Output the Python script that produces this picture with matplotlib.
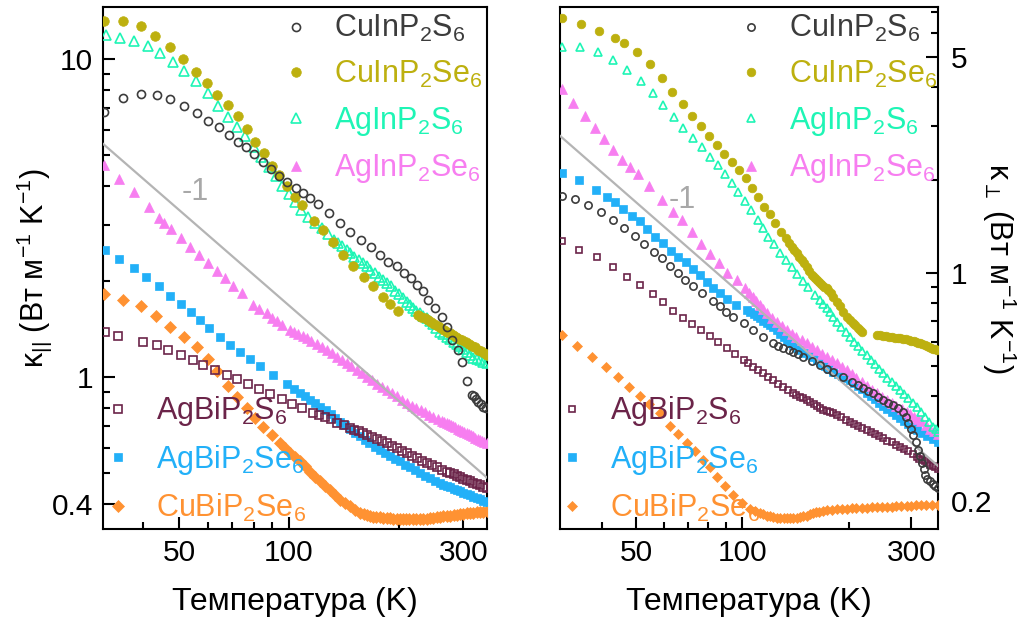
import matplotlib
matplotlib.use('Agg')
import matplotlib.pyplot as plt
import matplotlib.transforms as mtransforms
from matplotlib.ticker import FixedLocator, FixedFormatter, NullFormatter

# ---------------- data: left panel (kappa parallel) ----------------
T_par_CuInP2S6 = [31.2, 35.2, 39.4, 43.5, 47.4, 51.7, 55.9, 60.1, 64.3, 68.7, 72.4, 76.1, 80.2, 84.7, 89.1, 94,
                  98.9, 104.3, 109, 114.2, 120.3, 128.9, 137.9, 146.9, 157.1, 167.3, 177.4, 187, 197.1, 206.4,
                  215.3, 223.6, 232.2, 240.6, 250.9, 261.7, 270.1, 278.8, 290.6, 296.9, 306.4, 316.2, 320, 324,
                  329.7, 335, 340.3, 346]
k_par_CuInP2S6 = [6.84, 7.54, 7.78, 7.72, 7.48, 7.13, 6.76, 6.41, 6.11, 5.78, 5.51, 5.29, 5.04, 4.76, 4.51, 4.3,
                  4.12, 3.93, 3.79, 3.66, 3.51, 3.28, 3.05, 2.87, 2.70, 2.56, 2.42, 2.31, 2.23, 2.13,
                  2.05, 1.95, 1.86, 1.75, 1.65, 1.55, 1.44, 1.31, 1.22, 1.12, 0.973, 0.88, 0.87, 0.855,
                  0.838, 0.822, 0.808, 0.80]

T_par_CuInP2Se6 = [31.2, 35.2, 39.3, 43.0, 47.2, 51.4, 55.7, 59.8, 63.7, 68.0, 72.4, 76.6, 80.9, 85.4, 89.7, 94.1,
                   99, 103.8, 108.7, 117, 123.6, 131.7, 140.3, 150, 160.4, 170.1, 181.2, 189, 198.4,
                   226, 230, 235, 240, 245, 250, 255, 260, 265, 270, 276, 281, 287, 292, 298, 304, 310, 316,
                   322, 328, 335, 341, 347]
k_par_CuInP2Se6 = [13.2, 13.2, 12.7, 11.8, 10.9, 10.0, 9.14, 8.41, 7.72, 7.17, 6.63, 6.03, 5.51, 5.06, 4.63, 4.31,
                   4.0, 3.70, 3.48, 3.09, 2.91, 2.67, 2.42, 2.23, 2.07, 1.93, 1.79, 1.70, 1.62,
                   1.57, 1.55, 1.53, 1.51, 1.49, 1.47, 1.45, 1.43, 1.41, 1.39, 1.375, 1.355, 1.34, 1.32, 1.305,
                   1.29, 1.27, 1.255, 1.24, 1.22, 1.205, 1.19, 1.175]

T_par_AgInP2S6 = [31.6, 34.5, 37.6, 41.2, 44.4, 48.1, 51.7, 55.7, 59.9, 64.0, 68.2, 72.2, 75.8, 80, 84, 88, 92, 96,
                  100, 104, 108, 113, 118, 123, 128, 133, 136.5, 140, 144, 147, 151, 155, 159, 163, 167, 172,
                  176, 181, 185, 190, 195, 200, 205, 210, 214, 219, 223, 228, 233, 238, 243, 248, 253, 259,
                  264, 270, 276, 282, 288, 294, 300, 306, 312, 319, 326, 333, 340, 347]
k_par_AgInP2S6 = [11.9, 11.7, 11.4, 11.0, 10.5, 9.83, 9.21, 8.56, 7.85, 7.13, 6.57, 6.11, 5.74, 5.29, 4.91, 4.58,
                  4.28, 4.0, 3.77, 3.55, 3.35, 3.18, 3.05, 2.95, 2.83, 2.71, 2.64, 2.58, 2.51, 2.45, 2.39, 2.33,
                  2.28, 2.23, 2.17, 2.12, 2.07, 2.02, 1.98, 1.93, 1.87, 1.82, 1.77, 1.72, 1.69, 1.65, 1.62,
                  1.59, 1.56, 1.53, 1.50, 1.47, 1.43, 1.39, 1.365, 1.34, 1.315, 1.29, 1.27, 1.25, 1.225,
                  1.20, 1.175, 1.15, 1.14, 1.13, 1.12, 1.11]

T_par_AgInP2Se6 = [31.2, 34.3, 37.7, 41.5, 44.2, 45.6, 47.7, 50.7, 53.6, 56.8, 60.1, 63.6, 66.8, 70.4, 74.5, 79.8,
                   83, 86.9, 90, 92.5, 96, 100.6, 103, 106, 109, 111.8, 115, 119, 123, 126.8, 131, 135, 139.5,
                   143.9, 148, 153, 158, 163.2, 168.5, 174, 179.5, 185.1, 191, 197, 203.5, 210, 216.5, 223,
                   229.5, 236, 242, 248.3, 255, 262, 266, 270, 273.5, 277, 281, 285, 289.5, 294, 298, 302, 306,
                   310, 314.5, 319, 323.5, 328, 333, 338, 342.5, 347]
k_par_AgInP2Se6 = [4.65, 4.19, 3.81, 3.44, 3.16, 3.06, 2.92, 2.74, 2.57, 2.42, 2.28, 2.16, 2.05, 1.94, 1.84, 1.69,
                   1.64, 1.59, 1.54, 1.50, 1.455, 1.41, 1.39, 1.37, 1.35, 1.33, 1.30, 1.27, 1.245, 1.22, 1.19,
                   1.16, 1.135, 1.11, 1.082, 1.055, 1.027, 1.0, 0.977, 0.955, 0.933, 0.912, 0.891, 0.87, 0.849,
                   0.828, 0.814, 0.80, 0.787, 0.775, 0.763, 0.752, 0.741, 0.73, 0.723, 0.717, 0.711, 0.705,
                   0.70, 0.695, 0.689, 0.683, 0.678, 0.674, 0.669, 0.665, 0.658, 0.652, 0.646, 0.64, 0.635,
                   0.63, 0.625, 0.62]

T_par_AgBiP2S6 = [31.4, 34.1, 39.9, 43.5, 46.8, 50.7, 54.5, 58.3, 62.7, 67.5, 72.2, 77.4, 82.9, 88.7, 95.5, 101.7,
                  108.3, 116.6, 120.9, 125.4, 130, 135.1, 141, 147, 151, 155, 159, 163, 168.5, 174, 179.5, 185,
                  191, 197, 203.5, 210, 217, 224, 231, 238, 246, 254, 262, 270, 276, 282, 288, 294, 300, 306,
                  312.5, 319, 326, 333, 340, 347]
k_par_AgBiP2S6 = [1.39, 1.35, 1.29, 1.26, 1.22, 1.175, 1.13, 1.093, 1.054, 1.017, 0.988, 0.953, 0.919, 0.884,
                  0.855, 0.824, 0.799, 0.774, 0.763, 0.752, 0.736, 0.72, 0.705, 0.691, 0.683, 0.675, 0.667,
                  0.659, 0.649, 0.64, 0.63, 0.62, 0.609, 0.598, 0.587, 0.577, 0.566, 0.556, 0.546, 0.536, 0.528,
                  0.52, 0.512, 0.505, 0.50, 0.495, 0.49, 0.485, 0.48, 0.475, 0.47, 0.466, 0.461, 0.457, 0.452,
                  0.448]

T_par_AgBiP2Se6 = [31.4, 34.3, 37.6, 40.6, 44.2, 47.2, 50.7, 53.9, 57.1, 60.5, 64.7, 69.0, 73.4, 78.2, 83.3, 90.6,
                   98.6, 103, 107.2, 110.5, 114, 118, 121.6, 126, 130, 134, 137.9, 142.5, 147, 151.5, 156, 161,
                   166, 171.5, 177, 183, 189, 195, 201, 207.5, 214, 221, 228, 235.5, 243, 251, 259, 264.5, 270,
                   276, 282, 288, 294, 300, 306, 312.5, 319, 326, 333, 340, 347]
k_par_AgBiP2Se6 = [2.51, 2.36, 2.21, 2.06, 1.93, 1.80, 1.70, 1.60, 1.51, 1.43, 1.34, 1.26, 1.20, 1.14, 1.085,
                   1.017, 0.953, 0.92, 0.891, 0.87, 0.85, 0.829, 0.808, 0.786, 0.765, 0.745, 0.725, 0.706, 0.687,
                   0.669, 0.652, 0.636, 0.62, 0.605, 0.59, 0.577, 0.565, 0.554, 0.543, 0.531, 0.52, 0.509,
                   0.499, 0.49, 0.481, 0.472, 0.464, 0.459, 0.455, 0.45, 0.446, 0.441, 0.437, 0.433, 0.429,
                   0.425, 0.421, 0.417, 0.413, 0.409, 0.406]

T_par_CuBiP2Se6 = [31.2, 35.2, 39.3, 43.3, 47.4, 51.6, 55.9, 59.9, 63.7, 68.2, 72.2, 76.6, 80.7, 85.1, 89.7, 94.5,
                   97.5, 100.6, 104, 107.2, 110.7, 114.2, 118, 121.6, 125.5, 129.5, 133.7, 137.9, 142.4, 146.9,
                   151.7, 156.5, 160, 163, 166.5, 170, 173.5, 177, 181, 185, 189, 193, 197, 201, 205, 209, 213.5,
                   218, 223, 228, 233, 238, 243, 248, 253.5, 259, 264.5, 270, 276, 282, 288, 294, 300, 306,
                   312.5, 319, 326, 333, 340, 347]
k_par_CuBiP2Se6 = [1.82, 1.75, 1.68, 1.56, 1.44, 1.34, 1.24, 1.14, 1.049, 0.939, 0.865, 0.799, 0.743, 0.699,
                   0.659, 0.62, 0.598, 0.577, 0.56, 0.543, 0.524, 0.505, 0.487, 0.47, 0.456, 0.442, 0.426, 0.411,
                   0.401, 0.392, 0.382, 0.373, 0.37, 0.368, 0.366, 0.364, 0.363, 0.362, 0.361, 0.36, 0.3595,
                   0.359, 0.3585, 0.358, 0.3575, 0.357, 0.357, 0.357, 0.3575, 0.358, 0.3585, 0.359, 0.36, 0.361,
                   0.3625, 0.364, 0.365, 0.366, 0.367, 0.368, 0.3695, 0.371, 0.372, 0.373, 0.374, 0.375, 0.376,
                   0.377, 0.3775, 0.378]

# ---------------- data: right panel (kappa perpendicular) ----------------
T_perp_CuInP2S6 = [30.8, 33.7, 36.7, 39.9, 43.2, 46.4, 49.6, 52.8, 56.1, 59.2, 62.5, 65.7, 68.9, 72.4, 76.8, 82.8,
                   86.5, 90, 93.9, 100.7, 107.4, 114.6, 122.3, 126, 130.5, 135, 139.3, 144, 148.7, 157, 165.8,
                   173, 180.7, 192, 203.7, 212, 219.6, 227, 234.5, 242, 250.2, 258, 267, 276, 285, 290, 294.4,
                   299, 304.2, 309, 314.4, 318, 321.4, 325, 328.3, 333, 339, 345, 351, 356.5]
k_perp_CuInP2S6 = [1.77, 1.73, 1.66, 1.58, 1.48, 1.40, 1.32, 1.24, 1.17, 1.116, 1.056, 1.002, 0.949, 0.905,
                   0.865, 0.81, 0.783, 0.75, 0.722, 0.688, 0.654, 0.622, 0.592, 0.581, 0.571, 0.563, 0.556,
                   0.546, 0.536, 0.52, 0.504, 0.491, 0.479, 0.462, 0.445, 0.434, 0.424, 0.416, 0.408, 0.398,
                   0.388, 0.381, 0.374, 0.367, 0.355, 0.342, 0.326, 0.312, 0.299, 0.283, 0.267, 0.255, 0.243,
                   0.232, 0.222, 0.216, 0.212, 0.207, 0.204, 0.201]

T_perp_CuInP2Se6 = [30.9, 35.0, 39.4, 43.7, 46.4, 50.3, 54.8, 59.2, 63.4, 67.7, 71.9, 76.3, 80.5, 84.6, 88.9,
                    93.3, 97.9, 102.2, 106.5, 111, 115.4, 119.5, 123.7, 128.4, 132.9, 135.4, 137.9, 140.2, 142.5,
                    144.8, 147.2, 149.6, 152, 154.5, 157, 159.2, 161.5, 163.6, 165.8, 168, 170.5, 172.8, 175,
                    178, 180.7, 185, 189, 193, 197.2, 201, 205, 208.5, 212, 215, 217.4,
                    239.8, 245, 250, 255, 260, 265, 270, 274.5, 279, 284.5, 290, 295, 300, 305, 310, 314, 317.7,
                    322.5, 327, 331.5, 336, 340.5, 345, 349.5, 354]
k_perp_CuInP2Se6 = [6.67, 6.38, 6.08, 5.75, 5.56, 5.18, 4.74, 4.27, 3.86, 3.52, 3.23, 2.99, 2.78, 2.60, 2.43,
                    2.28, 2.15, 2.03, 1.89, 1.76, 1.64, 1.55, 1.455, 1.36, 1.295, 1.255, 1.216, 1.187, 1.158,
                    1.129, 1.10, 1.074, 1.048, 1.016, 0.985, 0.97, 0.955, 0.94, 0.926, 0.914, 0.903, 0.892, 0.881,
                    0.86, 0.838, 0.808, 0.78, 0.75, 0.722, 0.706, 0.69, 0.677, 0.665, 0.655, 0.646,
                    0.63, 0.628, 0.626, 0.624, 0.622, 0.62, 0.618, 0.6165, 0.615, 0.6125, 0.61, 0.607, 0.604,
                    0.6005, 0.597, 0.5945, 0.592, 0.588, 0.584, 0.58, 0.576, 0.5725, 0.569, 0.566, 0.563]

T_perp_AgInP2S6 = [30.9, 34.8, 39.0, 43.2, 47.3, 51.6, 55.8, 59.8, 64.1, 68.1, 72.4, 76.8, 81.0, 85.2, 89.4, 93.3,
                   97.4, 101.8, 105.8, 110.3, 114.6, 118.4, 122.9, 127.8, 132.9, 137.9, 143.0, 148.7, 153.6,
                   160.5, 165.8, 169.4, 173, 176.8, 180.7, 185.3, 190, 195.7, 201.5, 206.7, 212, 218.3, 224.6,
                   230.8, 237, 243.6, 250.2, 257, 264, 271.5, 279, 286.5, 294, 302.5, 311, 319.5, 328, 337,
                   346.3, 351.4, 356.5]
k_perp_AgInP2S6 = [5.37, 5.37, 5.18, 4.89, 4.54, 4.18, 3.83, 3.50, 3.20, 2.95, 2.74, 2.56, 2.38, 2.24, 2.09,
                   1.95, 1.83, 1.71, 1.60, 1.48, 1.40, 1.31, 1.24, 1.16, 1.10, 1.048, 0.993, 0.942, 0.899,
                   0.849, 0.818, 0.794, 0.77, 0.746, 0.722, 0.696, 0.67, 0.645, 0.622, 0.60, 0.58, 0.561, 0.543,
                   0.525, 0.507, 0.49, 0.474, 0.459, 0.445, 0.431, 0.418, 0.405, 0.393, 0.381, 0.369, 0.356,
                   0.343, 0.33, 0.318, 0.312, 0.306]

T_perp_AgInP2Se6 = [30.9, 33.2, 35.8, 38.2, 40.7, 43.0, 45.6, 48.2, 50.6, 54.6, 59.4, 63.6, 67.4, 71.9, 76.4,
                    81.0, 85.9, 90.7, 96.4, 101.8, 104.4, 107, 109.5, 112, 114.6, 117.2, 121, 125, 129.2, 133.5,
                    137.7, 142, 147, 152, 157, 162, 167.5, 173.1, 179, 185, 191, 197.2, 203.6, 210, 217.3, 224.6,
                    232.3, 240, 247.9, 255.8, 263.9, 272, 281.6, 291.3, 298, 305, 312.5, 320, 329.5, 339, 347.8,
                    356.5]
k_perp_AgInP2Se6 = [3.93, 3.54, 3.23, 2.94, 2.71, 2.50, 2.33, 2.20, 2.09, 1.91, 1.72, 1.58, 1.48, 1.36, 1.24,
                    1.15, 1.075, 1.002, 0.949, 0.892, 0.865, 0.838, 0.814, 0.79, 0.765, 0.741, 0.718, 0.695,
                    0.674, 0.654, 0.637, 0.62, 0.606, 0.592, 0.577, 0.562, 0.549, 0.536, 0.523, 0.51, 0.497,
                    0.485, 0.471, 0.457, 0.444, 0.431, 0.419, 0.408, 0.398, 0.388, 0.379, 0.371, 0.363, 0.355,
                    0.349, 0.343, 0.337, 0.331, 0.3225, 0.314, 0.308, 0.302]

T_perp_AgBiP2S6 = [30.8, 34.6, 38.8, 43.2, 47.1, 51.4, 55.7, 59.8, 63.8, 67.9, 71.9, 76.4, 81.0, 85.5, 90.3,
                   95.4, 100.7, 104, 107.4, 111, 114.6, 118.4, 122.3, 126.4, 130.5, 134.9, 139.3, 142.1, 145,
                   148.5, 152, 155.5, 159, 162.4, 165.8, 169.4, 173, 176.9, 180.7, 185.3, 190, 195.7, 201.5,
                   206.7, 212, 218.3, 224.6, 230.8, 237, 243.6, 250.2, 257, 264, 271.5, 279, 286.5, 294, 302.5,
                   311, 316.5, 322, 327.5, 333, 339, 345, 350.7, 356.5]
k_perp_AgBiP2S6 = [1.27, 1.19, 1.124, 1.048, 0.968, 0.914, 0.857, 0.804, 0.755, 0.717, 0.682, 0.654, 0.625,
                   0.599, 0.571, 0.547, 0.523, 0.51, 0.497, 0.485, 0.474, 0.462, 0.45, 0.439, 0.429, 0.418,
                   0.408, 0.403, 0.398, 0.393, 0.388, 0.382, 0.376, 0.37, 0.365, 0.361, 0.358, 0.355, 0.352,
                   0.346, 0.341, 0.335, 0.33, 0.325, 0.32, 0.315, 0.31, 0.305, 0.301, 0.296, 0.292, 0.287,
                   0.283, 0.278, 0.274, 0.269, 0.265, 0.26, 0.254, 0.251, 0.248, 0.246, 0.243, 0.24, 0.238,
                   0.235, 0.233]

T_perp_AgBiP2Se6 = [30.9, 34.6, 38.6, 41.4, 43.7, 46.1, 48.7, 51.2, 53.9, 56.7, 59.8, 62.9, 65.9, 69.2, 72.4,
                    75.9, 79.3, 82.8, 86.5, 90.3, 96, 102.9, 105.2, 107.5, 109.8, 112.2, 114.6, 117, 119.6, 122.3,
                    125.1, 128, 130.7, 133.5, 136.2, 139, 142.2, 145.5, 149.7, 154, 158.1, 162.3, 166.6, 171,
                    175.8, 180.7, 185.8, 191, 196.2, 201.5, 206.7, 212, 218.3, 224.6, 230.8, 237, 243.6, 250.2,
                    257, 264, 271.5, 279, 286.5, 294, 302.5, 311, 322, 333, 344.7, 356.5]
k_perp_AgBiP2Se6 = [2.11, 2.0, 1.85, 1.76, 1.70, 1.61, 1.53, 1.47, 1.385, 1.31, 1.25, 1.18, 1.13, 1.083, 1.028,
                    0.985, 0.937, 0.892, 0.86, 0.822, 0.79, 0.759, 0.747, 0.735, 0.724, 0.713, 0.701, 0.69,
                    0.68, 0.67, 0.653, 0.637, 0.622, 0.607, 0.596, 0.585, 0.574, 0.563, 0.553, 0.543, 0.533,
                    0.523, 0.512, 0.502, 0.491, 0.48, 0.472, 0.464, 0.457, 0.45, 0.44, 0.43, 0.42, 0.41, 0.40,
                    0.39, 0.38, 0.37, 0.3625, 0.355, 0.3475, 0.34, 0.3325, 0.325, 0.3175, 0.31, 0.3035, 0.297,
                    0.291, 0.285]

T_perp_CuBiP2Se6 = [30.8, 34.1, 37.6, 41.2, 44.6, 47.9, 51.2, 54.6, 58.3, 62.2, 65.9, 69.7, 73.2, 77.3, 81.0,
                    85.0, 89.4, 94.3, 99.6, 105.1, 108.6, 112.2, 114.6, 117, 119.6, 122.3, 125.1, 128, 130.7,
                    133.5, 136.2, 139, 142.2, 145.5, 148.7, 152, 155.3, 158.7, 161.8, 165, 169, 173.1, 179, 185,
                    191, 197.2, 203.6, 210, 217.3, 224.6, 232, 240, 248, 256, 264, 272, 281, 291, 300, 310, 320,
                    331, 343, 356.5]
k_perp_CuBiP2Se6 = [0.63, 0.582, 0.536, 0.495, 0.462, 0.429, 0.40, 0.376, 0.352, 0.321, 0.301, 0.281, 0.266,
                    0.249, 0.235, 0.219, 0.205, 0.191, 0.18, 0.173, 0.17, 0.167, 0.1655, 0.164, 0.163, 0.162,
                    0.1615, 0.161, 0.161, 0.161, 0.161, 0.161, 0.1615, 0.162, 0.163, 0.164, 0.1655, 0.167,
                    0.168, 0.169, 0.17, 0.171, 0.1715, 0.172, 0.1725, 0.173, 0.1735, 0.174, 0.174, 0.174,
                    0.1745, 0.175, 0.175, 0.175, 0.1755, 0.176, 0.176, 0.176, 0.1765, 0.177, 0.177, 0.1775,
                    0.178, 0.178]

# guide lines with slope -1
T_guide_par = [31, 348]
k_guide_par = [5.42, 0.483]
T_guide_perp = [30.5, 357]
k_guide_perp = [2.78, 0.2375]

labels = ['CuInP$_\\mathregular{2}$S$_\\mathregular{6}$', 'CuInP$_\\mathregular{2}$Se$_\\mathregular{6}$',
          'AgInP$_\\mathregular{2}$S$_\\mathregular{6}$', 'AgInP$_\\mathregular{2}$Se$_\\mathregular{6}$',
          'AgBiP$_\\mathregular{2}$S$_\\mathregular{6}$', 'AgBiP$_\\mathregular{2}$Se$_\\mathregular{6}$',
          'CuBiP$_\\mathregular{2}$Se$_\\mathregular{6}$']
colors = ['#3c3c3c', '#bdb00f', '#1ef5b5', '#f77ef0', '#6b2449', '#22b0f8', '#ff9232']
markers = ['o', 'o', '^', '^', 's', 's', 'D']
filled = [False, True, False, True, False, True, True]
msizes = [5.8, 6.9, 7.0, 7.5, 5.3, 5.8, 6.0]

par_T = [T_par_CuInP2S6, T_par_CuInP2Se6, T_par_AgInP2S6, T_par_AgInP2Se6, T_par_AgBiP2S6,
         T_par_AgBiP2Se6, T_par_CuBiP2Se6]
par_k = [k_par_CuInP2S6, k_par_CuInP2Se6, k_par_AgInP2S6, k_par_AgInP2Se6, k_par_AgBiP2S6,
         k_par_AgBiP2Se6, k_par_CuBiP2Se6]
perp_T = [T_perp_CuInP2S6, T_perp_CuInP2Se6, T_perp_AgInP2S6, T_perp_AgInP2Se6, T_perp_AgBiP2S6,
          T_perp_AgBiP2Se6, T_perp_CuBiP2Se6]
perp_k = [k_perp_CuInP2S6, k_perp_CuInP2Se6, k_perp_AgInP2S6, k_perp_AgInP2Se6, k_perp_AgBiP2S6,
          k_perp_AgBiP2Se6, k_perp_CuBiP2Se6]

plt.rcParams['font.family'] = ['Liberation Sans', 'DejaVu Sans']
plt.rcParams['mathtext.fontset'] = 'custom'
plt.rcParams['mathtext.rm'] = 'Liberation Sans'
plt.rcParams['mathtext.it'] = 'Liberation Sans:italic'
plt.rcParams['mathtext.bf'] = 'Liberation Sans:bold'

fig = plt.figure(figsize=(10.31, 6.24), dpi=100)
W, H = 1031, 624
axL = fig.add_axes([103 / W, 95 / H, 384 / W, 522 / H])
axR = fig.add_axes([560 / W, 95 / H, 378 / W, 522 / H])

GRAY = '#b4b4b4'
LEGFS = 22


def draw(ax, Ts, ks, scale):
    handles = [None] * 7
    for i in range(6, -1, -1):
        c = colors[i]
        h, = ax.plot(Ts[i], ks[i], linestyle='none', marker=markers[i],
                     ms=msizes[i] * scale, mec=c, mfc=c if filled[i] else 'none',
                     mew=1.2 if not filled[i] else 0.5, zorder=3 + (6 - i) * 0.1,
                     label=labels[i])
        handles[i] = h
    return handles


hL = draw(axL, par_T, par_k, 1.0)
hR = draw(axR, perp_T, perp_k, 0.9)
axL.plot(T_guide_par, k_guide_par, color=GRAY, lw=1.6, zorder=3.35)
axR.plot(T_guide_perp, k_guide_perp, color=GRAY, lw=1.6, zorder=3.35)
axL.text(55.3, 3.83, '-1', color='#a8a8a8', fontsize=22, ha='center', va='center')
axR.text(67.4, 1.72, '-1', color='#a8a8a8', fontsize=22, ha='center', va='center')

for ax in (axL, axR):
    ax.set_xscale('log')
    ax.set_yscale('log')
    ax.xaxis.set_major_locator(FixedLocator([50, 100, 300]))
    ax.xaxis.set_major_formatter(FixedFormatter(['50', '100', '300']))
    ax.xaxis.set_minor_locator(FixedLocator([40, 60, 70, 80, 90, 200]))
    ax.xaxis.set_minor_formatter(NullFormatter())
    for s in ax.spines.values():
        s.set_linewidth(1.5)
    ax.tick_params(which='both', direction='in', width=1.5, labelsize=21.5, top=False)
    ax.tick_params(which='major', length=8.5, pad=7)
    ax.tick_params(which='minor', length=5)
    ax.set_xlabel('Температура (K)', fontsize=23)
    ax.xaxis.set_label_coords(0.5, -0.112)

axL.set_xlim(31, 348)
axL.set_ylim(0.333, 14.6)
axL.yaxis.set_major_locator(FixedLocator([0.4, 1, 10]))
axL.yaxis.set_major_formatter(FixedFormatter(['0.4', '1', '10']))
axL.yaxis.set_minor_locator(FixedLocator([0.5, 0.6, 0.7, 0.8, 0.9, 2, 3, 4, 5, 6, 7, 8, 9]))
axL.yaxis.set_minor_formatter(NullFormatter())
axL.tick_params(axis='y', which='both', left=True, right=False)
axL.set_ylabel('κ$_{\\mathregular{||}}$ (Вт м$^{\\mathregular{-1}}$ K$^{\\mathregular{-1}}$)', fontsize=22)
axL.yaxis.set_label_coords(-0.128, 0.5)

axR.set_xlim(30.5, 357)
axR.set_ylim(0.1485, 7.26)
axR.yaxis.tick_right()
axR.yaxis.set_major_locator(FixedLocator([0.2, 1, 5]))
axR.yaxis.set_major_formatter(FixedFormatter(['0.2', '1', '5']))
axR.yaxis.set_minor_locator(FixedLocator([0.4, 0.5, 0.6, 0.7, 0.8, 0.9, 2, 3, 4, 6, 7]))
axR.yaxis.set_minor_formatter(NullFormatter())
axR.tick_params(axis='y', which='both', left=False, right=True, labelleft=False, labelright=True)
axR.tick_params(axis='y', which='major', pad=9)
axR.yaxis.get_major_ticks()[0].tick2line.set_visible(False)
# the "0.2" label sits a little lower in the original figure
lab02 = axR.yaxis.get_major_ticks()[0].label2
lab02.set_transform(lab02.get_transform() + mtransforms.ScaledTranslation(0, -12 / 100, fig.dpi_scale_trans))
axR.yaxis.set_label_position('right')
axR.set_ylabel('κ$_{\\perp}$ (Вт м$^{\\mathregular{-1}}$ K$^{\\mathregular{-1}}$)', fontsize=22,
               rotation=270, va='bottom')
axR.yaxis.set_label_coords(1.111, 0.5)


def legends(ax, h, up_x, lo_x):
    leg1 = ax.legend(handles=h[:4], loc='upper left', bbox_to_anchor=(up_x, 0.988), frameon=False,
                     fontsize=LEGFS, handlelength=1.0, handletextpad=0.75, labelspacing=0.48,
                     borderpad=0, borderaxespad=0, numpoints=1)
    for t, c in zip(leg1.get_texts(), colors[:4]):
        t.set_color(c)
    ax.add_artist(leg1)
    leg2 = ax.legend(handles=h[4:], loc='lower left', bbox_to_anchor=(lo_x, 0.01), frameon=False,
                     fontsize=LEGFS, handlelength=1.0, handletextpad=0.75, labelspacing=0.48,
                     borderpad=0, borderaxespad=0, numpoints=1)
    for t, c in zip(leg2.get_texts(), colors[4:]):
        t.set_color(c)


legends(axL, hL, 0.462, 0.0)
legends(axR, hR, 0.464, -0.008)

fig.savefig('out.png', dpi=100)
